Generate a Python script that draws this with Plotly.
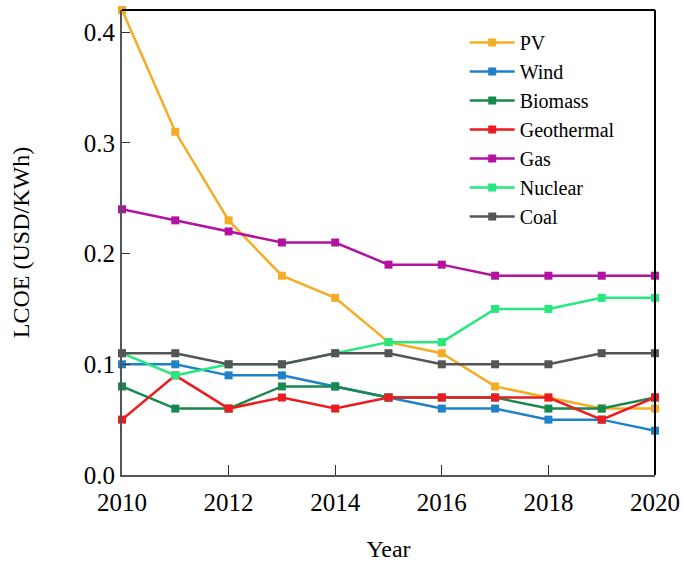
import plotly.graph_objects as go

years = [2010, 2011, 2012, 2013, 2014, 2015, 2016, 2017, 2018, 2019, 2020]
pv = [0.42, 0.31, 0.23, 0.18, 0.16, 0.12, 0.11, 0.08, 0.07, 0.06, 0.06]
wind = [0.10, 0.10, 0.09, 0.09, 0.08, 0.07, 0.06, 0.06, 0.05, 0.05, 0.04]
biomass = [0.08, 0.06, 0.06, 0.08, 0.08, 0.07, 0.07, 0.07, 0.06, 0.06, 0.07]
geothermal = [0.05, 0.09, 0.06, 0.07, 0.06, 0.07, 0.07, 0.07, 0.07, 0.05, 0.07]
gas = [0.24, 0.23, 0.22, 0.21, 0.21, 0.19, 0.19, 0.18, 0.18, 0.18, 0.18]
nuclear = [0.11, 0.09, 0.10, 0.10, 0.11, 0.12, 0.12, 0.15, 0.15, 0.16, 0.16]
coal = [0.11, 0.11, 0.10, 0.10, 0.11, 0.11, 0.10, 0.10, 0.10, 0.11, 0.11]

series = [
    ("PV", pv, "#F5AC25"),
    ("Wind", wind, "#1F82C8"),
    ("Biomass", biomass, "#17894E"),
    ("Geothermal", geothermal, "#EC1B1F"),
    ("Gas", gas, "#B3129F"),
    ("Nuclear", nuclear, "#26E87F"),
    ("Coal", coal, "#555555"),
]

FONT = "Liberation Serif"

fig = go.Figure()
for name, vals, col in series:
    fig.add_trace(go.Scatter(
        x=years, y=vals, name=name, mode="lines+markers",
        line=dict(color=col, width=2.5),
        marker=dict(symbol="square", size=8, color=col),
        cliponaxis=False,
    ))

fig.update_layout(
    width=683, height=563,
    margin=dict(l=122, r=28, t=10, b=88, autoexpand=False),
    paper_bgcolor="white", plot_bgcolor="white",
    font=dict(family=FONT, size=25, color="black"),
    showlegend=True,
    legend=dict(x=0.643, y=0.972, xanchor="left", yanchor="top",
                bgcolor="rgba(0,0,0,0)", font=dict(size=20, family=FONT),
                tracegroupgap=0, itemwidth=45),
    xaxis=dict(range=[2010, 2020], tickvals=[2010, 2012, 2014, 2016, 2018, 2020],
               ticks="inside", ticklen=10, tickwidth=1.2, tickcolor="#333",
               ticklabelstandoff=4, automargin=False,
               showline=True, linecolor="#555", linewidth=2,
               showgrid=False, zeroline=False,
               title=dict(text="Year", standoff=25, font=dict(size=24, family=FONT))),
    yaxis=dict(range=[0, 0.42], tickvals=[0, 0.1, 0.2, 0.3, 0.4],
               ticktext=["0.0", "0.1", "0.2", "0.3", "0.4"],
               ticks="inside", ticklen=8, tickwidth=1.2, tickcolor="#333",
               automargin=False,
               showline=True, linecolor="#555", linewidth=2,
               showgrid=False, zeroline=False,
               title=dict(text="LCOE (USD/KWh)", standoff=47, font=dict(size=24, family=FONT))),
)
# top and right frame lines (black)
fig.add_shape(type="line", xref="paper", yref="paper", x0=0, x1=1, y0=1, y1=1,
              line=dict(color="black", width=2))
fig.add_shape(type="line", xref="paper", yref="paper", x0=1, x1=1, y0=0, y1=1,
              line=dict(color="black", width=2))

fig.write_html("out.html", config={"displayModeBar": False},
               post_script="document.body.style.margin='0';document.body.style.overflow='hidden';")
